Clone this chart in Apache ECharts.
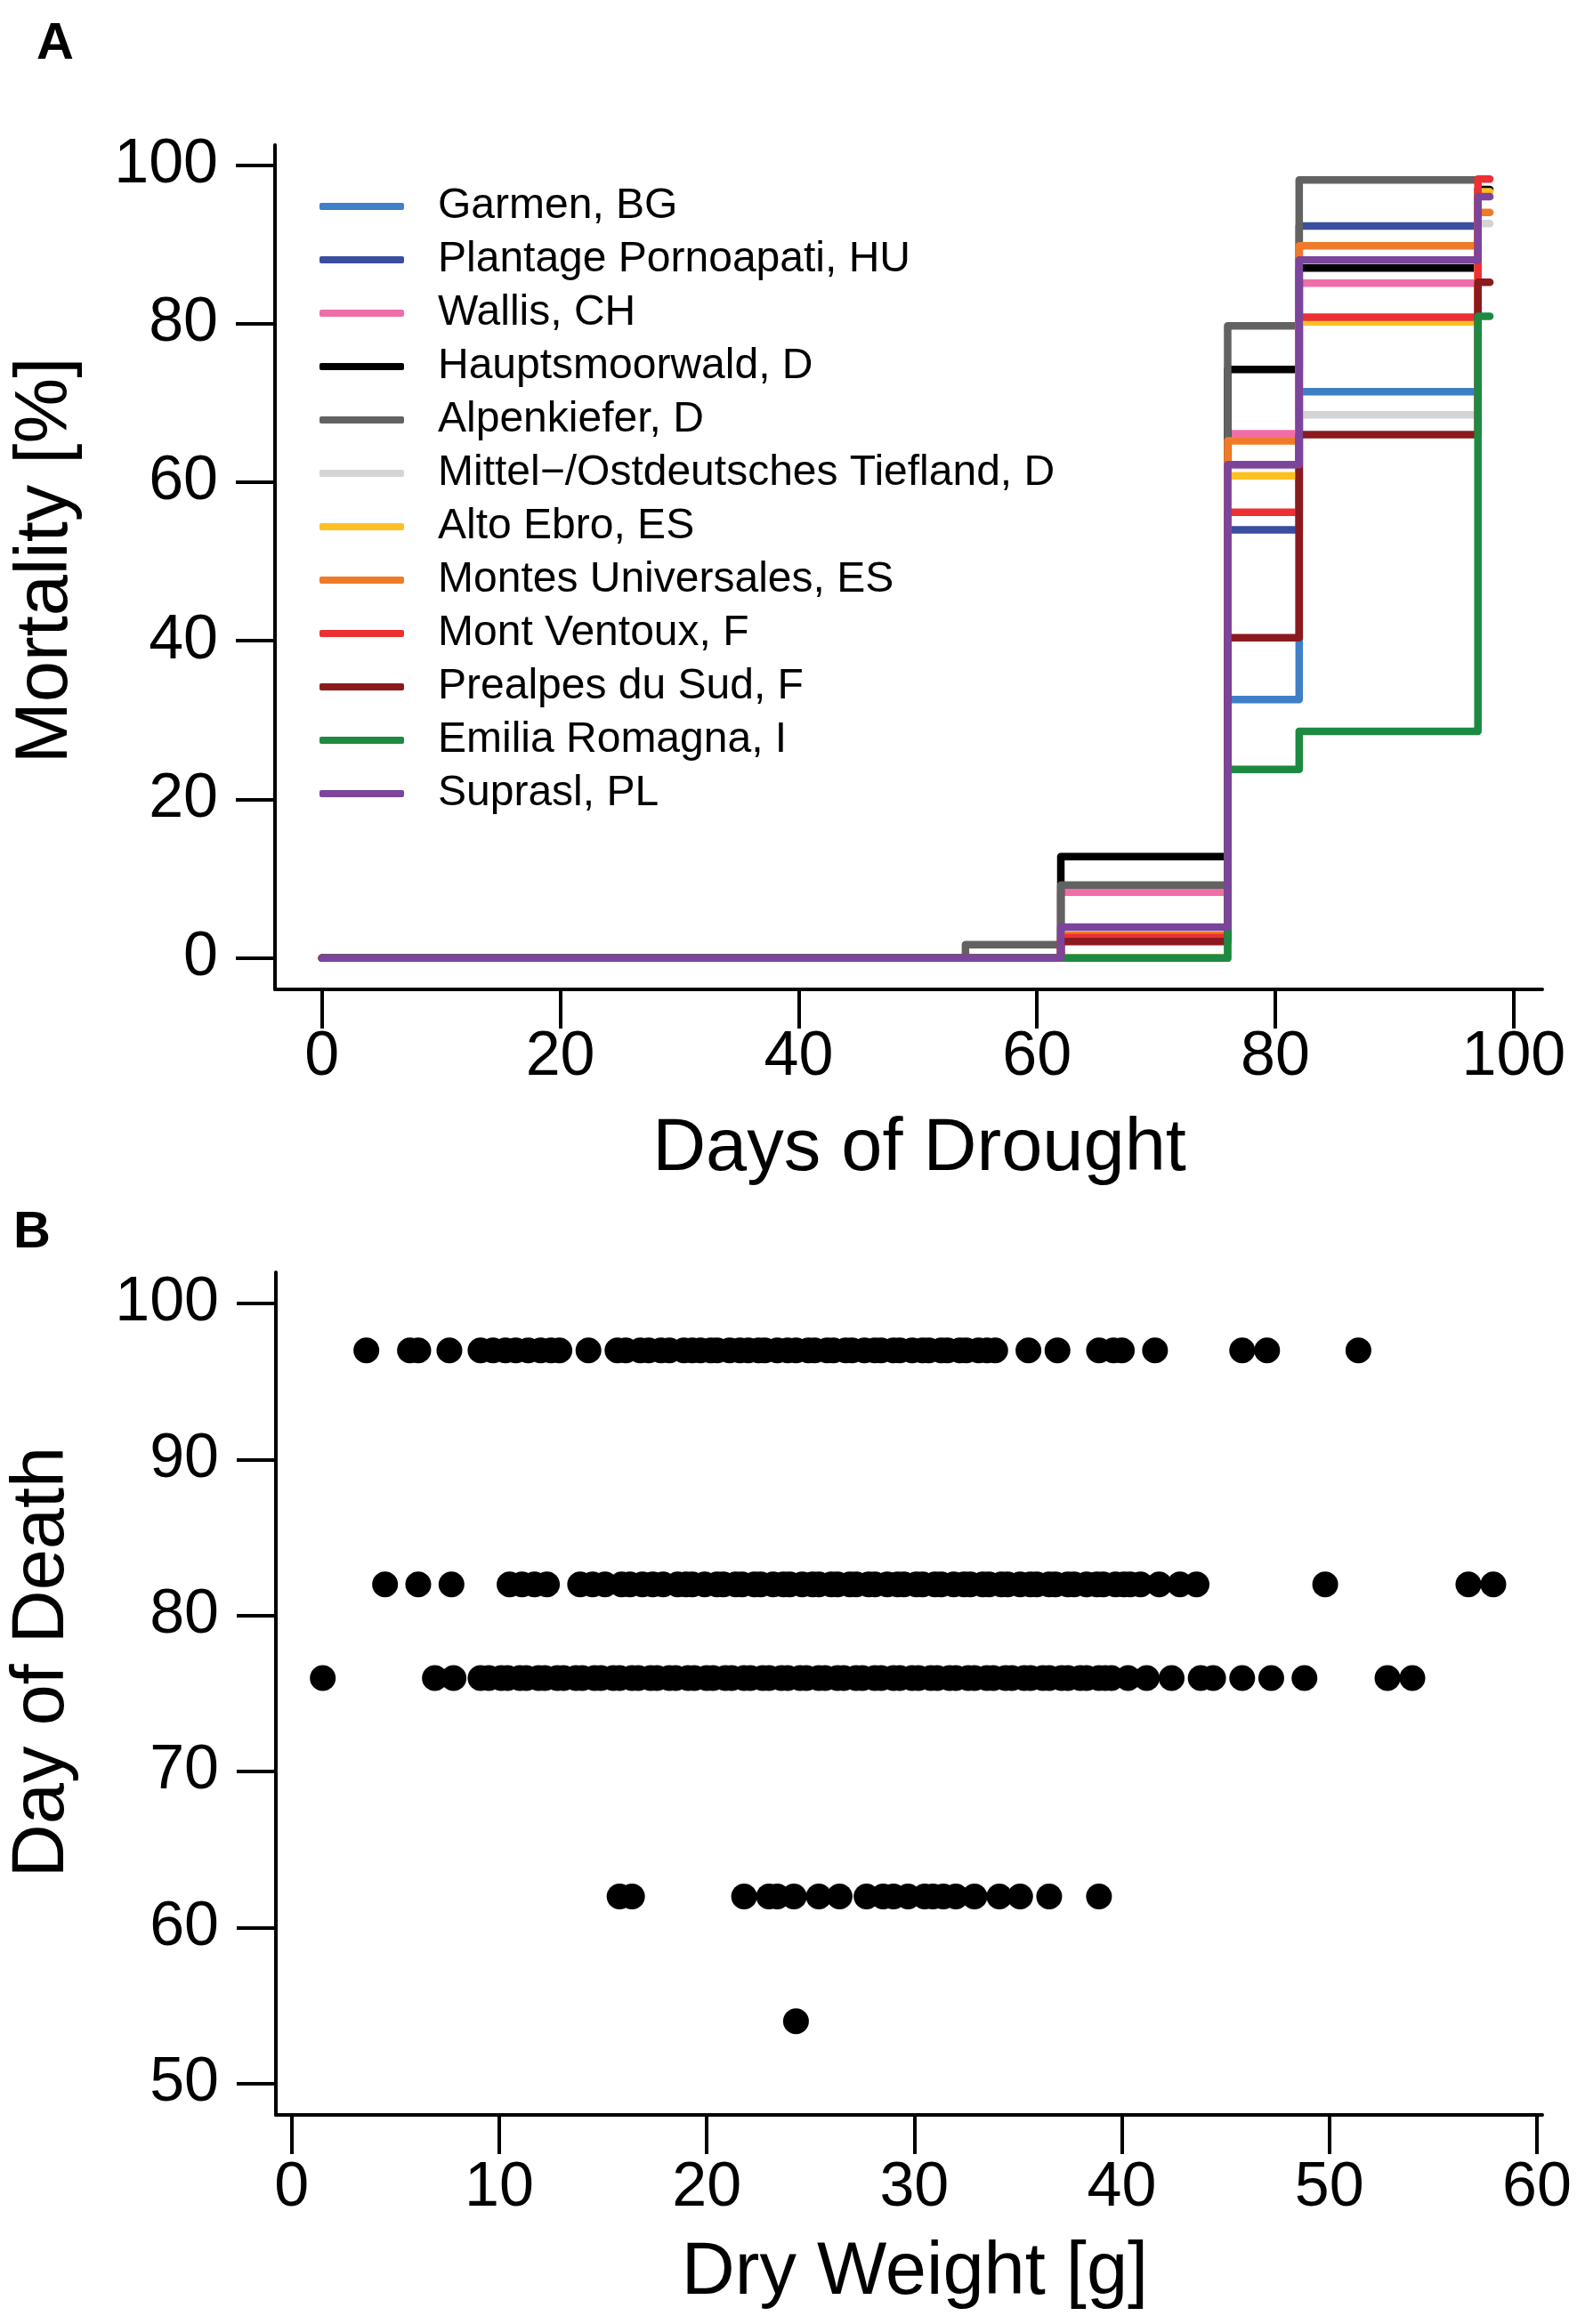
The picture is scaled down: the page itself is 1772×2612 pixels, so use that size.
<!DOCTYPE html>
<html>
<head>
<meta charset="utf-8">
<title>Mortality and day of death</title>
<script src="https://cdn.jsdelivr.net/npm/echarts@6/dist/echarts.min.js"></script>
<style>
  html, body { margin: 0; padding: 0; background: #fff; }
  #chart { width: 1772px; height: 2612px; }
</style>
</head>
<body>
<div id="chart"></div>
<script>
// panel A: cumulative mortality (%) per provenance, one value per observation day
var days = [0, 54, 62, 76, 82, 97, 98];
var sites = [
    "Garmen, BG", "Plantage Pornoapati, HU", "Wallis, CH", "Hauptsmoorwald, D",
    "Alpenkiefer, D", "Mittel\u2212/Ostdeutsches Tiefland, D", "Alto Ebro, ES",
    "Montes Universales, ES", "Mont Ventoux, F", "Prealpes du Sud, F",
    "Emilia Romagna, I", "Suprasl, PL"
];
var garmen = [0, 0, 0, 32.6, 71.4, 71.4, null];
var plantage = [0, 0, 0, 54.0, 92.3, 92.3, null];
var wallis = [0, 0, 8.3, 66.1, 85.1, 85.1, null];
var hauptsmoorwald = [0, 0, 12.8, 74.2, 87.0, 96.9, 96.9];
var alpenkiefer = [0, 1.7, 9.2, 79.7, 98.1, 98.1, null];
var mittel = [0, 0, 0, 62.1, 68.5, 92.6, 92.6];
var altoEbro = [0, 0, 0, 60.8, 80.2, 96.6, 96.6];
var montes = [0, 0, 2.9, 65.2, 89.8, 94.0, 94.0];
var ventoux = [0, 0, 2.6, 56.2, 80.8, 98.2, 98.2];
var prealpes = [0, 0, 2.1, 40.4, 66.0, 85.2, 85.2];
var emilia = [0, 0, 0, 23.8, 28.6, 80.9, 80.9];
var suprasl = [0, 0, 3.9, 62.2, 88.0, 96.0, 96.0];
var mortality = [garmen, plantage, wallis, hauptsmoorwald, alpenkiefer, mittel,
    altoEbro, montes, ventoux, prealpes, emilia, suprasl];
var siteColors = ["#3f7fc6", "#3a4d9f", "#ef6ea8", "#000000", "#626262", "#d4d4d4",
    "#fcc023", "#ef7b28", "#ec3034", "#8a1a1e", "#1d8a41", "#7c449b"];
var ticksA = [0, 20, 40, 60, 80, 100];

// panel B: dry weight (g) of seedlings, grouped by day of death
var deathDays = [97, 82, 76, 62, 54];
var weight97 = [3.6, 5.7, 6.1, 7.6, 9.1, 9.7, 10.3, 10.8, 11.4, 12.0, 12.5, 12.9, 14.3,
    15.7, 16.1, 16.8, 17.2, 17.8, 18.2, 18.9, 19.3, 19.7, 20.2, 20.5, 21.1, 21.6, 22.0,
    22.5, 22.8, 23.4, 23.9, 24.3, 24.9, 25.2, 25.8, 26.1, 26.7, 27.0, 27.6, 28.1, 28.4,
    29.0, 29.3, 29.9, 30.4, 30.7, 31.3, 31.6, 32.2, 32.5, 33.1, 33.5, 33.9, 35.5, 36.9,
    38.9, 39.6, 40.0, 41.6, 45.8, 47.0, 51.4];
var weight82 = [4.5, 6.1, 7.7, 10.5, 11.1, 11.7, 12.3, 13.9, 14.5, 15.1, 15.9, 16.3,
    16.9, 17.4, 17.9, 18.6, 19.0, 19.3, 19.9, 20.5, 20.8, 21.4, 21.7, 22.3, 22.6, 23.2,
    23.7, 24.0, 24.6, 25.1, 25.4, 26.0, 26.3, 26.9, 27.2, 27.8, 28.1, 28.7, 29.2, 29.5,
    30.1, 30.4, 31.0, 31.3, 31.9, 32.4, 32.7, 33.3, 33.6, 34.2, 34.5, 35.1, 35.6, 35.9,
    36.5, 36.8, 37.4, 37.7, 38.3, 38.8, 39.1, 39.7, 40.1, 40.4, 40.9, 41.8, 42.8, 43.6,
    49.8, 56.7, 57.9];
var weight76 = [1.5, 6.9, 7.8, 9.1, 9.5, 10.1, 10.4, 11.0, 11.3, 11.9, 12.2, 12.8,
    13.1, 13.7, 14.0, 14.6, 14.9, 15.5, 15.8, 16.4, 16.7, 17.3, 17.6, 18.2, 18.5, 19.1,
    19.4, 20.0, 20.3, 20.9, 21.2, 21.8, 22.1, 22.7, 23.0, 23.6, 23.9, 24.5, 24.8, 25.4,
    25.7, 26.3, 26.6, 27.2, 27.5, 28.1, 28.4, 29.0, 29.3, 29.9, 30.2, 30.8, 31.1, 31.7,
    32.0, 32.6, 32.9, 33.5, 33.8, 34.4, 34.7, 35.3, 35.6, 36.2, 36.5, 37.1, 37.4, 38.0,
    38.3, 38.9, 39.2, 39.5, 40.3, 41.2, 42.4, 43.8, 44.4, 45.8, 47.2, 48.8, 52.8, 54.0];
var weight62 = [15.8, 16.4, 21.8, 23.0, 23.4, 24.2, 25.4, 26.4, 27.7, 28.5, 29.0,
    29.7, 30.5, 30.9, 31.4, 32.0, 32.9, 34.1, 35.1, 36.5, 38.9];
var weight54 = [24.3];
var weights = [weight97, weight82, weight76, weight62, weight54];
var ticksBx = [0, 10, 20, 30, 40, 50, 60];
var ticksBy = [50, 60, 70, 80, 90, 100];

var font = "Liberation Sans";

function axisStyle(ticks, margin) {
    return {
        axisLine: { onZero: !1, lineStyle: { color: "#000", width: 4 } },
        axisTick: { customValues: ticks, length: 44, lineStyle: { color: "#000", width: 4 } },
        axisLabel: { customValues: ticks, fontSize: 70, color: "#000", fontFamily: font, margin: margin },
        splitLine: { show: !1 },
    };
}

var stepSeries = sites.map(function (name, i) {
    var pts = [];
    days.forEach(function (d, j) {
        if (mortality[i][j] !== null) pts.push([d, mortality[i][j]]);
    });
    return {
        name: name,
        type: "line",
        xAxisIndex: 0,
        yAxisIndex: 0,
        step: "end",
        symbol: "none",
        data: pts,
        color: siteColors[i],
        lineStyle: { width: 8.5, color: siteColors[i], cap: "round", join: "round" },
    };
});

var dotData = [];
deathDays.forEach(function (d, i) {
    weights[i].forEach(function (w) { dotData.push([w, d]); });
});

var xA = Object.assign({ type: "value", gridIndex: 0, min: -3.94, max: 102.4 }, axisStyle(ticksA, 42));
var yA = Object.assign({ type: "value", gridIndex: 0, min: -3.94, max: 102.5 }, axisStyle(ticksA, 64));
var xB = Object.assign({ type: "value", gridIndex: 1, min: -0.76, max: 60.26 }, axisStyle(ticksBx, 48));
var yB = Object.assign({ type: "value", gridIndex: 1, min: 48, max: 102 }, axisStyle(ticksBy, 64));

function title(txt, x, y, size, rot, bold) {
    return {
        type: "text",
        x: x,
        y: y,
        rotation: rot || 0,
        style: {
            text: txt,
            fontSize: size,
            fontFamily: font,
            fontWeight: bold ? "bold" : "normal",
            fill: "#000",
            align: "center",
            verticalAlign: "middle",
        },
    };
}

var option = {
    animation: !1,
    backgroundColor: "#fff",
    grid: [
        { left: 309, top: 163, width: 1424, height: 949 },
        { left: 310, top: 1430, width: 1423, height: 947 },
    ],
    xAxis: [xA, xB],
    yAxis: [yA, yB],
    legend: {
        orient: "vertical",
        left: 354,
        top: 203,
        itemWidth: 95,
        itemHeight: 8,
        itemGap: 12,
        icon: "roundRect",
        data: sites,
        textStyle: { fontSize: 48, color: "#000", fontFamily: font, padding: [0, 0, 0, 33] },
    },
    graphic: [
        title("A", 62, 50, 58, 0, true),
        title("B", 36, 1386, 58, 0, true),
        title("Mortality [%]", 52, 630, 83, Math.PI / 2),
        title("Days of Drought", 1033, 1292, 83),
        title("Day of Death", 48, 1868, 83, Math.PI / 2),
        title("Dry Weight [g]", 1028, 2555, 83),
    ],
    series: stepSeries.concat([
        {
            name: "Day of death",
            type: "scatter",
            xAxisIndex: 1,
            yAxisIndex: 1,
            symbol: "circle",
            symbolSize: 29,
            itemStyle: { color: "#000", opacity: 1 },
            data: dotData,
        },
    ]),
};

echarts.init(document.getElementById("chart")).setOption(option);
</script>
</body>
</html>
